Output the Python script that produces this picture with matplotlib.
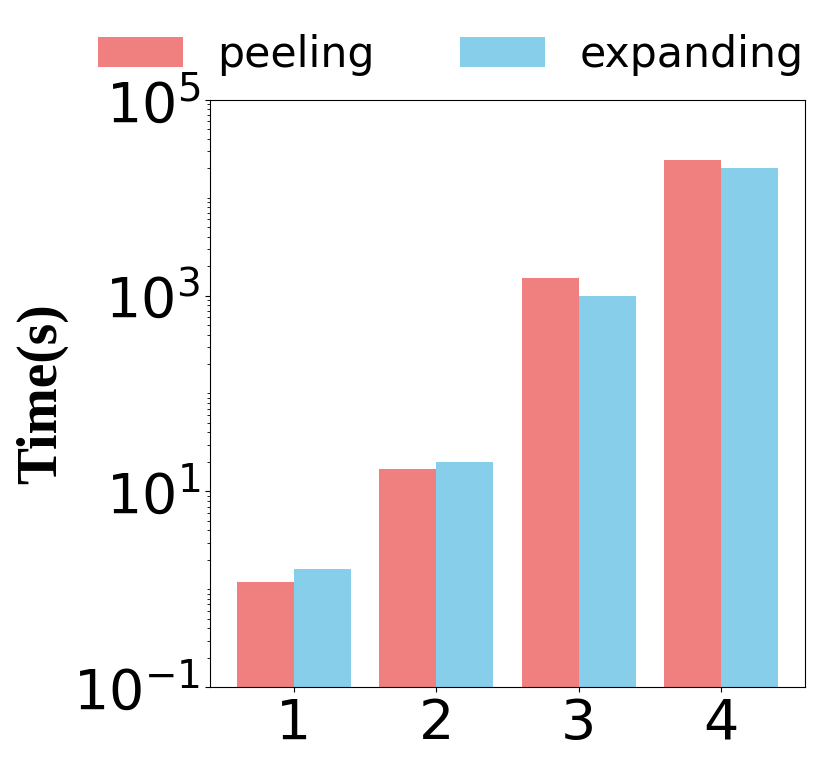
import numpy as np
import matplotlib
matplotlib.use('Agg')
import matplotlib.pyplot as plt
from matplotlib.ticker import LogLocator, NullFormatter

# Data
groups = [1, 2, 3, 4]
peeling = [1.2, 17, 1500, 24000]
expanding = [1.6, 20, 1000, 20000]


def bar_plot():
    fig = plt.figure(figsize=(8.3, 7.67), dpi=100)
    ax = fig.add_axes([0.253, 0.104, 0.717, 0.766])

    x = np.arange(len(groups)) + 1
    width = 0.4
    ax.bar(x - width / 2, peeling, width, color='lightcoral', label='peeling')
    ax.bar(x + width / 2, expanding, width, color='skyblue', label='expanding')

    ax.set_yscale('log')
    ax.set_ylim(0.1, 1e5)
    ax.set_yticks([1e-1, 1e1, 1e3, 1e5])
    ax.yaxis.set_minor_locator(LogLocator(base=10, subs=np.arange(1, 10), numticks=30))
    ax.yaxis.set_minor_formatter(NullFormatter())
    ax.set_xticks(x)
    ax.set_xticklabels([str(g) for g in groups])
    ax.tick_params(axis='both', labelsize=40)

    ax.set_ylabel('Time(s)', fontsize=40, fontweight='bold', family='Liberation Serif')

    fig.legend(loc='upper center', bbox_to_anchor=(0.543, 1.006), ncol=2,
               frameon=False, fontsize=30.7)

    fig.savefig('out.png', dpi=100)


if __name__ == '__main__':
    bar_plot()
